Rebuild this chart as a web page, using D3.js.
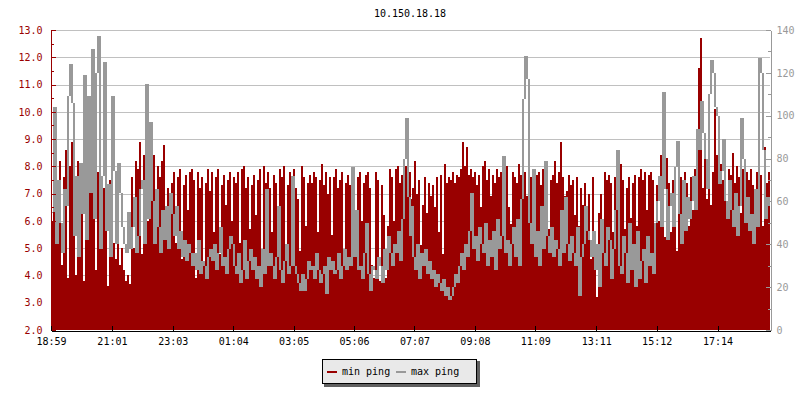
<!DOCTYPE html>
<html><head><meta charset="utf-8">
<script src="https://cdn.jsdelivr.net/npm/d3@7"></script>
<style>body{margin:0;background:#fff} text{font-family:"DejaVu Sans Mono",monospace;font-size:10px}</style>
</head><body><svg id="c" width="800" height="400"></svg>
<script>
const title = "10.150.18.18";
const legendLabels = ["min ping", "max ping"];
const timeLabels = ["18:59","21:01","23:03","01:04","03:05","05:06","07:07","09:08","11:09","13:11","15:12","17:14"];
const leftTicks = [2,3,4,5,6,7,8,9,10,11,12,13];
const rightTicks = [0,20,40,60,80,100,120,140];

// min ping (ms, left axis), one value per ~4 minutes
const minPing = [
6.0,8.0,7.8,7.2,8.2,4.4,7.6,8.6,3.9,8.0,
8.9,7.5,4.0,8.2,6.8,7.9,3.8,9.3,7.7,8.2,
7.6,9.1,4.2,7.8,8.4,5.0,7.2,8.0,3.6,7.5,
6.1,5.2,4.6,5.8,4.4,5.0,4.2,3.8,4.0,3.7,
7.6,5.0,8.2,7.9,8.9,4.8,8.4,8.6,6.0,8.3,
7.8,8.4,5.4,8.0,7.6,8.2,8.8,6.2,7.2,5.8,
7.4,7.8,5.2,7.6,7.9,4.6,7.3,7.7,6.4,7.8,
7.9,7.5,3.9,7.8,7.2,7.6,4.4,7.4,7.9,7.1,
7.8,5.6,7.6,7.9,4.8,7.3,7.7,6.6,7.5,7.8,
6.0,7.6,7.4,7.8,5.2,7.9,8.0,7.2,7.6,5.7,
7.3,7.7,6.2,7.5,7.9,4.6,8.0,7.4,7.8,7.2,
5.6,7.7,7.4,6.4,7.9,7.6,8.0,5.0,7.3,7.8,
7.5,7.9,7.2,6.8,4.9,8.0,7.6,5.8,7.4,7.7,
7.4,7.8,7.6,5.6,7.5,8.1,7.3,7.8,7.0,7.6,
5.5,7.6,7.9,7.2,7.5,7.8,4.8,7.4,7.7,7.3,
5.2,7.9,5.4,7.6,7.8,6.0,7.4,7.7,7.8,7.2,
4.4,3.9,7.8,7.5,3.8,7.3,6.2,3.9,5.8,7.9,
7.6,6.0,7.9,8.0,7.4,7.7,7.5,8.0,7.3,7.8,
6.8,7.2,8.2,7.0,7.5,5.1,6.6,7.6,6.3,7.4,
6.9,7.3,6.5,7.6,5.6,7.7,4.8,8.1,7.4,7.6,
7.5,7.8,7.4,7.7,7.6,7.9,8.9,8.0,8.7,7.7,
7.9,7.6,7.8,7.3,7.7,6.5,8.0,8.2,7.5,7.9,
6.9,7.7,7.4,7.9,7.6,7.8,7.2,7.5,8.0,6.5,
5.9,7.8,7.6,7.4,8.1,7.7,7.5,7.8,6.9,7.2,
7.6,7.9,7.4,7.7,7.8,7.3,7.9,8.2,7.6,5.7,
7.5,7.7,8.2,7.4,7.8,8.9,7.6,6.9,7.1,7.7,
7.3,7.5,6.2,7.6,5.8,7.2,6.6,7.4,6.0,7.0,
4.6,7.6,5.4,3.2,6.3,7.0,5.1,7.8,7.5,7.7,
7.4,5.6,7.6,7.3,7.7,8.1,7.5,5.7,7.2,7.6,
6.1,7.4,7.7,5.8,7.6,7.9,7.5,7.8,6.4,7.7,
7.8,7.5,5.2,7.3,6.0,8.4,7.2,5.4,8.3,7.4,
5.6,7.5,7.7,4.9,6.8,7.6,5.3,7.8,7.4,5.8,
7.6,6.4,7.9,8.9,11.6,12.7,7.2,8.8,6.8,9.3,
6.6,7.8,10.1,8.4,7.9,8.1,7.5,7.8,6.4,7.9,
7.7,8.5,7.4,8.0,7.6,6.3,7.9,7.2,7.8,7.5,
7.9,7.3,6.5,7.8,7.6,7.7,5.8,8.7,7.4,7.8
];

// max ping (ms, right axis)
const maxPing = [
55,104,40,70,50,36,66,58,109,124,
106,44,72,34,78,54,119,42,109,64,
131,52,120,137,38,72,125,46,68,34,
109,74,40,78,64,48,40,36,55,38,
48,62,36,44,66,70,40,115,52,97,
60,40,66,48,36,56,42,58,38,64,
54,44,58,38,46,34,42,32,40,36,
30,36,28,42,26,32,30,24,34,38,
32,40,28,36,48,30,34,26,38,44,
40,30,26,36,22,28,42,24,32,38,
28,34,24,30,20,38,26,66,30,36,
30,24,34,58,28,22,32,40,26,30,
72,30,26,22,18,26,18,24,32,28,
30,24,36,28,22,26,30,17,34,28,
32,26,28,36,24,30,38,28,34,30,
76,34,56,28,30,24,36,50,26,18,
30,28,24,34,30,22,38,28,44,36,
30,40,36,46,32,52,80,99,62,44,
58,34,28,40,24,36,30,38,26,32,
24,28,20,26,22,18,24,16,20,14,
16,20,26,22,30,36,28,40,34,46,
64,38,44,32,48,40,36,50,30,42,
34,46,28,52,38,44,81,36,42,30,
40,48,34,52,30,61,108,128,117,50,
40,75,34,46,30,58,38,79,44,36,
48,34,42,38,30,56,36,62,40,32,
44,36,30,48,16,34,40,58,46,42,
34,46,28,40,20,52,36,30,48,42,
24,38,56,84,30,26,44,36,22,50,
28,40,20,46,24,32,38,22,44,30,
36,26,50,60,72,48,111,66,42,58,
64,48,76,88,54,40,70,46,62,52,
60,72,56,94,84,107,92,80,66,110,
126,120,104,100,68,74,89,60,52,70,
56,48,64,44,58,99,80,50,62,46,
54,40,66,48,127,120,84,52,62,58
];

const RED = "#990000", GRAY = "#999999";
const svg = d3.select("#c");
const start = new Date(2020, 0, 1, 18, 59);
const end = new Date(2020, 0, 2, 18, 59);
const x = d3.scaleTime().domain([start, end]).range([51, 770]);
const yL = d3.scaleLinear().domain([2, 13]).range([330, 30]);
const yR = d3.scaleLinear().domain([0, 140]).range([330, 30]);
const stepMs = (end - start) / minPing.length;
const times = minPing.map((_, i) => new Date(start.getTime() + i * stepMs));
const tEnd = i => (i + 1 < times.length ? times[i + 1] : end);

// tick dates from labels
let day = 0, prevH = -1;
const tickDates = timeLabels.map(l => {
  const [h, m] = l.split(":").map(Number);
  if (prevH >= 0 && h < prevH) day++;
  prevH = h;
  return new Date(2020, 0, 1 + day, h, m);
});

// grid
svg.append("g").selectAll("line").data(leftTicks.slice(1)).join("line")
  .attr("x1", 51).attr("x2", 770)
  .attr("y1", d => Math.round(yL(d)) + 0.5).attr("y2", d => Math.round(yL(d)) + 0.5)
  .attr("stroke", "#c0c0c0").attr("stroke-width", 1);

// red area (min ping)
const redPts = minPing.map((v, i) => [times[i], v]).concat([[end, minPing[minPing.length - 1]]]);
svg.append("path").datum(redPts)
  .attr("d", d3.area().x(d => x(d[0])).y0(330).y1(d => yL(d[1])).curve(d3.curveStepAfter))
  .attr("fill", RED).attr("shape-rendering", "crispEdges");

// gray line (max ping): each time slot shows the vertical run from the previous value to this one
svg.append("g").attr("shape-rendering", "crispEdges").selectAll("rect")
  .data(maxPing.map((v, i) => ({ i, v, p: i ? maxPing[i - 1] : v })))
  .join("rect")
  .attr("x", d => Math.round(x(times[d.i])))
  .attr("width", d => Math.round(x(tEnd(d.i))) - Math.round(x(times[d.i])))
  .attr("y", d => Math.round(yR(Math.max(d.v, d.p))))
  .attr("height", d => Math.max(1, Math.round(yR(Math.min(d.v, d.p))) - Math.round(yR(Math.max(d.v, d.p)))))
  .attr("fill", GRAY);

function styleAxis(g, color) {
  g.selectAll("path,line").attr("stroke", color).attr("shape-rendering", "crispEdges");
  g.selectAll("text").attr("fill", color).style("font-family", '"DejaVu Sans Mono",monospace').style("font-size", "10px");
}

// left axis
const gl = svg.append("g").attr("transform", "translate(50.5,0)")
  .call(d3.axisLeft(yL).tickValues(leftTicks).tickFormat(d3.format(".1f")).tickSizeInner(-5).tickSizeOuter(0).tickPadding(8));
styleAxis(gl, RED);
const glm = svg.append("g").attr("transform", "translate(50.5,0)")
  .call(d3.axisLeft(yL).tickValues(leftTicks.slice(0, -1).map(d => d + 0.5)).tickFormat("").tickSizeInner(-3).tickSizeOuter(0));
glm.select(".domain").remove();
styleAxis(glm, RED);

// right axis
const gr = svg.append("g").attr("transform", "translate(770.5,0)")
  .call(d3.axisRight(yR).tickValues(rightTicks).tickSizeInner(-5).tickSizeOuter(0).tickPadding(6));
styleAxis(gr, GRAY);
const grm = svg.append("g").attr("transform", "translate(770.5,0)")
  .call(d3.axisRight(yR).tickValues(rightTicks.slice(0, -1).map(d => d + 10)).tickFormat("").tickSizeInner(-3).tickSizeOuter(0));
grm.select(".domain").remove();
styleAxis(grm, GRAY);

// bottom axis
const gb = svg.append("g").attr("transform", "translate(0,330.5)")
  .call(d3.axisBottom(x).tickValues(tickDates).tickFormat((d, i) => timeLabels[i]).tickSizeInner(-5).tickSizeOuter(0).tickPadding(7));
styleAxis(gb, "#000");

// title
svg.append("text").attr("x", 410).attr("y", 17).attr("text-anchor", "middle")
  .attr("fill", "#000").text(title);

// legend
const lg = svg.append("g");
lg.append("rect").attr("x", 324).attr("y", 361).attr("width", 156).attr("height", 26).attr("fill", "#606060");
lg.append("rect").attr("x", 322.5).attr("y", 359.5).attr("width", 154).attr("height", 24)
  .attr("fill", "#e9e9e9").attr("stroke", "#000").attr("shape-rendering", "crispEdges");
const legX = [327, 396], colors = [RED, GRAY];
legendLabels.forEach((l, i) => {
  lg.append("rect").attr("x", legX[i]).attr("y", 371).attr("width", 10).attr("height", 2).attr("fill", colors[i]);
  lg.append("text").attr("x", legX[i] + 15).attr("y", 375).attr("fill", "#000").text(l);
});
</script></body></html>
